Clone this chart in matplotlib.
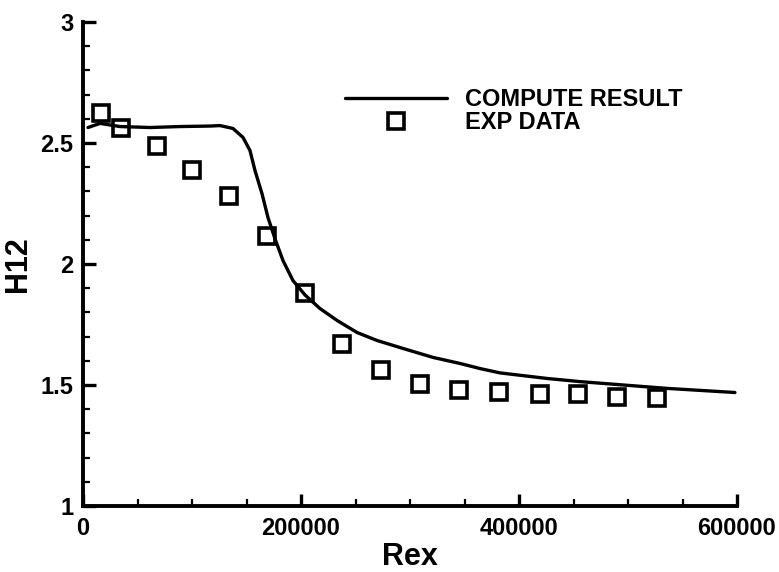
import matplotlib
matplotlib.use("Agg")
import matplotlib.pyplot as plt
from matplotlib.ticker import MultipleLocator

plt.rcParams['font.family'] = ['Liberation Sans', 'DejaVu Sans']
plt.rcParams['font.weight'] = 'bold'

# Computed shape factor along the plate
rex_compute = [4600, 15600, 33900, 61500, 89000, 116500, 125700, 137600, 146800,
               153200, 157800, 164200, 169700, 176100, 183500, 192700, 203700,
               217400, 233000, 251400, 269700, 293600, 321100, 345900, 364200,
               382600, 425700, 455900, 535800, 598100]
h12_compute = [2.564, 2.581, 2.568, 2.564, 2.568, 2.570, 2.572, 2.560, 2.523,
               2.469, 2.386, 2.291, 2.192, 2.105, 2.014, 1.931, 1.872,
               1.816, 1.767, 1.717, 1.684, 1.651, 1.614, 1.589, 1.568,
               1.550, 1.527, 1.514, 1.486, 1.469]

# Experimental measurements
rex_exp = [16500, 34900, 67900, 100000, 134000, 168800, 203700, 237600,
           273400, 309200, 345000, 381600, 419200, 454100, 489900, 526600]
h12_exp = [2.622, 2.564, 2.486, 2.390, 2.283, 2.114, 1.882, 1.671,
           1.564, 1.506, 1.481, 1.473, 1.461, 1.461, 1.452, 1.448]

W, H = 779, 572
fig = plt.figure(figsize=(W / 100, H / 100), dpi=100)
ax = fig.add_axes([83 / W, 1 - 506 / H, 654 / W, 484 / H])

ax.plot(rex_compute, h12_compute, color='black', lw=2.4, solid_capstyle='round',
        solid_joinstyle='round', label='COMPUTE RESULT', zorder=3)
ax.plot(rex_exp, h12_exp, linestyle='none', marker='s', ms=11, mew=2.6,
        mfc='none', mec='black', label='EXP DATA', zorder=4)

ax.set_xlim(0, 600000)
ax.set_ylim(1, 3)
ax.xaxis.set_major_locator(MultipleLocator(200000))
ax.xaxis.set_minor_locator(MultipleLocator(50000))
ax.yaxis.set_major_locator(MultipleLocator(0.5))
ax.yaxis.set_minor_locator(MultipleLocator(0.1))
ax.yaxis.set_major_formatter(plt.FuncFormatter(lambda v, p: f"{v:g}"))
ax.xaxis.set_major_formatter(plt.FuncFormatter(lambda v, p: f"{v:.0f}"))

for side in ('top', 'right'):
    ax.spines[side].set_visible(False)
for side in ('left', 'bottom'):
    ax.spines[side].set_linewidth(2.8)

ax.tick_params(which='major', direction='in', length=9, width=2.4,
               labelsize=17, pad=7)
ax.tick_params(which='minor', direction='in', length=5, width=1.6)
ax.tick_params(axis='x', which='major', pad=8)

ax.set_xlabel('Rex', fontsize=22, fontweight='bold')
ax.set_ylabel('H12', fontsize=22, fontweight='bold')
ax.xaxis.set_label_coords(0.5, -0.075)
ax.yaxis.set_label_coords(-0.077, 0.5)

ax.legend(loc='upper left', bbox_to_anchor=(345 / W, 1 - 88 / H),
          bbox_transform=fig.transFigure, frameon=False,
          handlelength=4.3, handletextpad=0.8, labelspacing=0.0,
          borderpad=0, borderaxespad=0, prop={'weight': 'bold', 'size': 17})

fig.savefig('out.png', dpi=100, facecolor='white')
